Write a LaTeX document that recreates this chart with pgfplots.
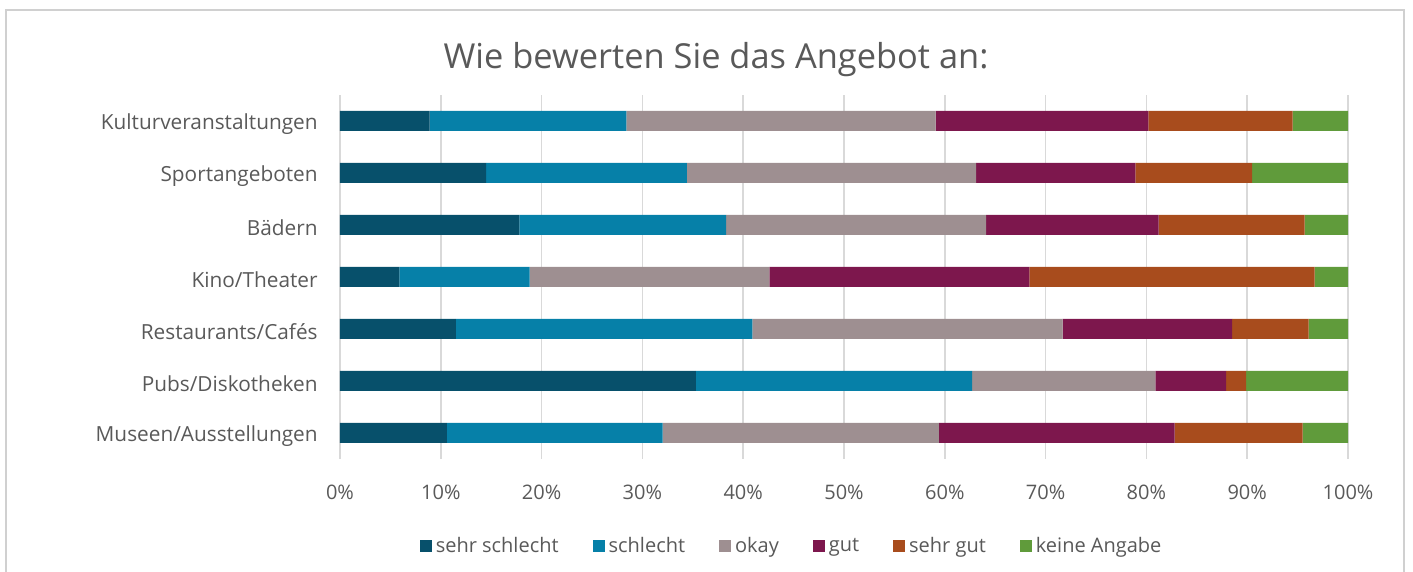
\documentclass[border=0pt]{standalone}
\usepackage{fontspec}
\setmainfont{Open Sans}
\usepackage{pgfplots}
\pgfplotsset{compat=1.18}
\definecolor{txt}{HTML}{595959}
\definecolor{gridc}{HTML}{D9D9D9}
\definecolor{frm}{HTML}{D0D0D0}
\definecolor{cA}{HTML}{07506B}
\definecolor{cB}{HTML}{0680A8}
\definecolor{cC}{HTML}{9E8F91}
\definecolor{cD}{HTML}{7D174D}
\definecolor{cE}{HTML}{A84C1D}
\definecolor{cF}{HTML}{609B3B}
\begin{document}
\begin{tikzpicture}
\useasboundingbox (-170pt,-57pt) rectangle (536.5pt,229pt);
\draw[frm, line width=1pt] (-167pt,-70pt) -- (-167pt,224pt) -- (532pt,224pt) -- (532pt,-70pt);
\node[font=\fontsize{17.2}{20}\selectfont, text=txt] at (188pt,199pt) {Wie bewerten Sie das Angebot an:};
\begin{axis}[
  at={(0pt,-0.5pt)}, anchor=south west,
  scale only axis, width=504pt, height=182pt,
  xbar stacked, bar width=10pt,
  xmin=0, xmax=100, ymin=0.5, ymax=7.5,
  xtick={0,10,...,100},
  /pgf/number format/assume math mode=true,
  xticklabel={\pgfmathprintnumber{\tick}\%},
  ytick={1,...,7},
  yticklabels={Museen/Ausstellungen, Pubs/Diskotheken, Restaurants/Cafés, Kino/Theater, Bädern, Sportangeboten, Kulturveranstaltungen},
  xmajorgrids, major grid style={gridc, line width=0.8pt},
  axis lines*=left,
  x axis line style={draw=none},
  y axis line style={draw=gridc, line width=0.8pt},
  major tick length=0pt,
  tick style={draw=none},
  ticklabel style={font=\fontsize{10}{12}\selectfont, text=txt},
  xticklabel style={anchor=center, yshift=-16.5pt},
  yticklabel style={anchor=east, inner sep=0pt, xshift=-11pt, yshift=-1.5pt, font=\fontsize{10.4}{12}\selectfont},
  legend style={at={(0.449,-0.239)}, anchor=center, draw=none, fill=none,
    legend columns=-1, font=\fontsize{10}{12}\selectfont, text=txt,
    /tikz/every even column/.append style={column sep=15pt}},
  legend image code/.code={\fill[#1] (0pt,-3.2pt) rectangle (6pt,3.2pt);},
]
\addplot[fill=cA, draw=none] coordinates {(10.6,1) (35.3,2) (11.5,3) (5.9,4) (17.8,5) (14.5,6) (8.9,7)};
\addplot[fill=cB, draw=none] coordinates {(21.4,1) (27.4,2) (29.4,3) (12.9,4) (20.5,5) (19.9,6) (19.5,7)};
\addplot[fill=cC, draw=none] coordinates {(27.4,1) (18.2,2) (30.8,3) (23.8,4) (25.8,5) (28.7,6) (30.7,7)};
\addplot[fill=cD, draw=none] coordinates {(23.4,1) (7.0,2) (16.8,3) (25.8,4) (17.1,5) (15.8,6) (21.1,7)};
\addplot[fill=cE, draw=none] coordinates {(12.7,1) (2.0,2) (7.6,3) (28.3,4) (14.5,5) (11.6,6) (14.3,7)};
\addplot[fill=cF, draw=none] coordinates {(4.5,1) (10.1,2) (3.9,3) (3.3,4) (4.3,5) (9.5,6) (5.5,7)};
\legend{sehr schlecht, schlecht, okay, gut, sehr gut, keine Angabe}
\end{axis}
\end{tikzpicture}
\end{document}
